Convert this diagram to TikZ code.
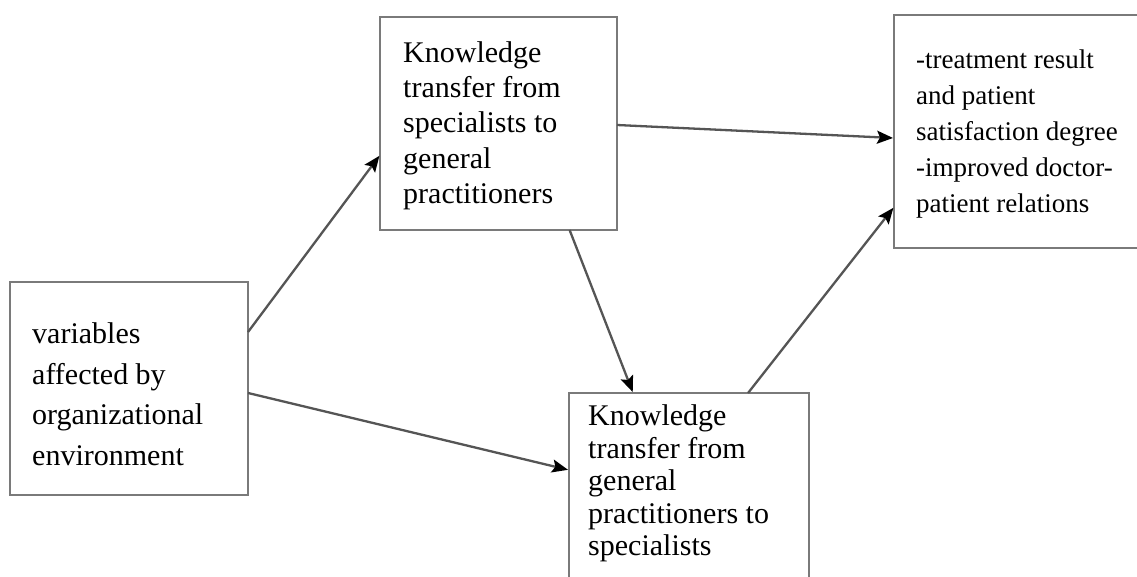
\documentclass[tikz,border=0pt]{standalone}
\usepackage{fontspec}
\setmainfont{Liberation Serif}
\usetikzlibrary{calc,arrows.meta}

\definecolor{boxline}{HTML}{7A7A7A}
\definecolor{arrline}{HTML}{555555}

\tikzset{
  framebox/.style={draw=boxline, line width=2.6pt, fill=white, inner sep=0pt, outer sep=0pt, anchor=north west},
  boxtext/.style={anchor=north west, inner sep=0pt, align=left, text=black},
  link/.style={draw=arrline, line width=2.3pt,
    -{Stealth[length=16pt, width=13pt, inset=3pt, color=black]}, shorten >=1pt}
}

\begin{document}
\begin{tikzpicture}[x=1pt, y=-1pt]
  \useasboundingbox[fill=white] (0,0) rectangle (1137,576);
  \clip (0,0) rectangle (1137,576);

  % boxes
  \node[framebox, minimum width=238pt, minimum height=213pt] (L) at (10,282) {};
  \node[framebox, minimum width=237pt, minimum height=213pt] (T) at (380,17) {};
  \node[framebox, minimum width=256pt, minimum height=233pt] (R) at (894,15) {};
  \node[framebox, minimum width=240pt, minimum height=197pt] (B) at (569,393) {};

  % box texts
  \node[boxtext, font=\fontsize{30}{40.5}\selectfont] (Ltxt) at (32,322.5)
    {variables\\affected by\\organizational\\environment};
  \node[boxtext, font=\fontsize{30}{35.2}\selectfont] (Ttxt) at (403,41.5)
    {Knowledge\\transfer from\\specialists to\\general\\practitioners};
  \node[boxtext, font=\fontsize{27}{36}\selectfont] (Rtxt) at (916,49.6)
    {-treatment result\\and patient\\satisfaction degree\\-improved doctor-\\patient relations};
  \node[boxtext, font=\fontsize{30}{32.5}\selectfont] (Btxt) at (588,404.5)
    {Knowledge\\transfer from\\general\\practitioners to\\specialists};

  % connectors
  \draw[link] ($(L.north east)!0.235!(L.south east)$) -- ($(T.north west)!0.648!(T.south west)$);
  \draw[link] ($(L.north east)!0.521!(L.south east)$) -- ($(B.north west)!0.391!(B.south west)$);
  \draw[link] ($(T.north east)!0.507!(T.south east)$) -- ($(R.north west)!0.528!(R.south west)$);
  \draw[link] ($(T.south west)!0.80!(T.south east)$) -- ($(B.north west)!0.267!(B.north east)$);
  \draw[link] ($(B.north west)!0.746!(B.north east)$) -- ($(R.north west)!0.824!(R.south west)$);
\end{tikzpicture}
\end{document}
